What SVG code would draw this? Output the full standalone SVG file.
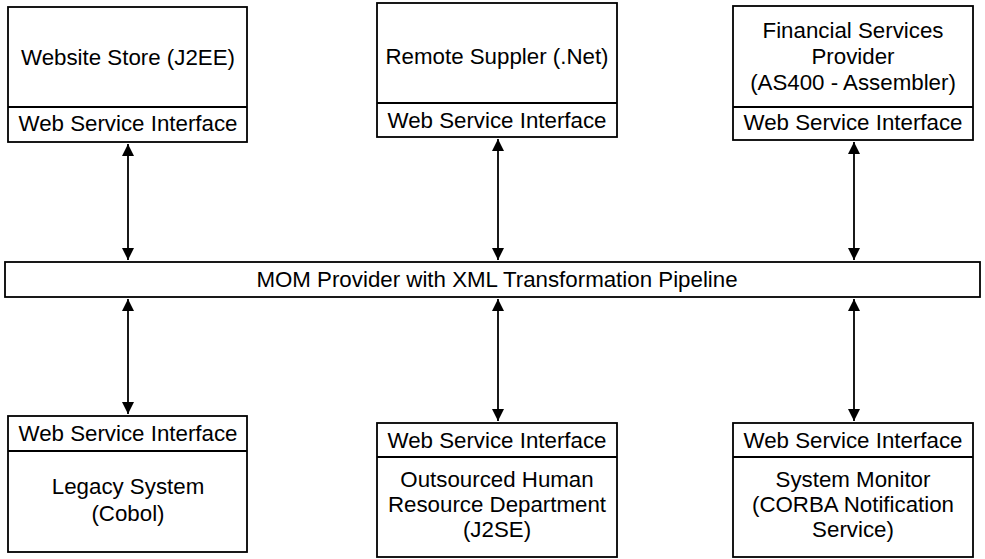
<svg xmlns="http://www.w3.org/2000/svg" width="985" height="559" viewBox="0 0 985 559">
  <style>
    .box { fill: #ffffff; stroke: #000000; stroke-width: 1.8; }
    .div { stroke: #000000; stroke-width: 1.8; }
    .lbl { font-family: "Liberation Sans", Arial, Helvetica, sans-serif; font-size: 22.3px; fill: #000000; text-anchor: middle; }
    .link { stroke: #000000; stroke-width: 1.8; fill: none; marker-start: url(#head); marker-end: url(#head); }
  </style>
  <defs>
    <marker id="head" viewBox="0 0 12 12" refX="12" refY="6" markerWidth="12" markerHeight="12" markerUnits="userSpaceOnUse" orient="auto-start-reverse">
      <path d="M0,0 L12,6 L0,12 Z" fill="#000000"/>
    </marker>
  </defs>
  <rect width="985" height="559" fill="#ffffff"/>

  <!-- connectors between each system and the MOM bus -->
  <g id="connectors">
    <line class="link" x1="128" y1="144" x2="128" y2="260"/>
    <line class="link" x1="498" y1="139" x2="498" y2="260"/>
    <line class="link" x1="854" y1="142" x2="854" y2="260"/>
    <line class="link" x1="128" y1="299" x2="128" y2="414"/>
    <line class="link" x1="498" y1="299" x2="498" y2="421"/>
    <line class="link" x1="854" y1="299" x2="854" y2="421"/>
  </g>

  <g id="website-store">
    <rect class="box" x="8" y="7" width="239" height="135"/>
    <line class="div" x1="8" y1="107" x2="247" y2="107"/>
    <text class="lbl" x="128" y="65">Website Store (J2EE)</text>
    <text class="lbl" x="128" y="131">Web Service Interface</text>
  </g>

  <g id="remote-supplier">
    <rect class="box" x="377" y="3" width="240" height="134"/>
    <line class="div" x1="377" y1="103" x2="617" y2="103"/>
    <text class="lbl" x="497" y="64">Remote Suppler (.Net)</text>
    <text class="lbl" x="497" y="128">Web Service Interface</text>
  </g>

  <g id="financial-services">
    <rect class="box" x="733" y="6" width="240" height="134"/>
    <line class="div" x1="733" y1="107" x2="973" y2="107"/>
    <text class="lbl" x="853" y="38">Financial Services</text>
    <text class="lbl" x="853" y="64">Provider</text>
    <text class="lbl" x="853" y="90">(AS400 - Assembler)</text>
    <text class="lbl" x="853" y="130">Web Service Interface</text>
  </g>

  <g id="mom-provider">
    <rect class="box" x="5" y="262" width="975" height="35"/>
    <text class="lbl" x="497" y="287">MOM Provider with XML Transformation Pipeline</text>
  </g>

  <g id="legacy-system">
    <rect class="box" x="8" y="416" width="239" height="136"/>
    <line class="div" x1="8" y1="451" x2="247" y2="451"/>
    <text class="lbl" x="128" y="441">Web Service Interface</text>
    <text class="lbl" x="128" y="494">Legacy System</text>
    <text class="lbl" x="128" y="521">(Cobol)</text>
  </g>

  <g id="outsourced-hr">
    <rect class="box" x="377" y="423" width="240" height="134"/>
    <line class="div" x1="377" y1="457" x2="617" y2="457"/>
    <text class="lbl" x="497" y="448">Web Service Interface</text>
    <text class="lbl" x="497" y="487">Outsourced Human</text>
    <text class="lbl" x="497" y="512">Resource Department</text>
    <text class="lbl" x="497" y="537">(J2SE)</text>
  </g>

  <g id="system-monitor">
    <rect class="box" x="733" y="423" width="240" height="134"/>
    <line class="div" x1="733" y1="457" x2="973" y2="457"/>
    <text class="lbl" x="853" y="448">Web Service Interface</text>
    <text class="lbl" x="853" y="487">System Monitor</text>
    <text class="lbl" x="853" y="512">(CORBA Notification</text>
    <text class="lbl" x="853" y="537">Service)</text>
  </g>
</svg>
